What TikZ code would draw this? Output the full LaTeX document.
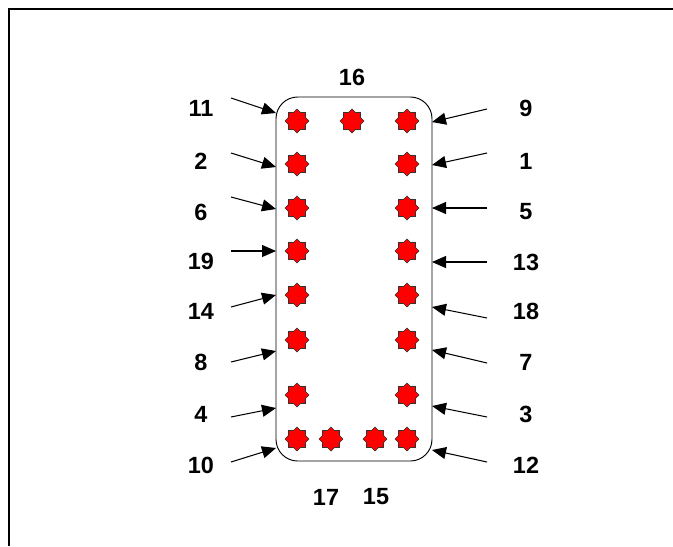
\documentclass[tikz,border=0pt]{standalone}
\usepackage{fontspec}
\setmainfont{Liberation Sans}
\usetikzlibrary{arrows.meta,shapes.geometric}

\begin{document}
\begin{tikzpicture}[x=0.03cm,y=-0.03cm,
   bar/.style={star,star points=8,star point ratio=1.3,draw=black!80,fill=red,
     line width=0.5pt,minimum size=0.72cm,inner sep=0pt},
   num/.style={font=\fontsize{20}{24}\selectfont\bfseries,inner sep=1pt},
   ptr/.style={-{Triangle[length=0.42cm,width=0.36cm]},line width=0.9pt}]
  \useasboundingbox (0,0) rectangle (673,546);
  \draw[line width=1.4pt] (9,546) -- (9,9) -- (673,9);
  % section outline
  \node[draw,line width=0.8pt,rounded corners=0.65cm,minimum width=4.68cm,
    minimum height=10.92cm] (cage) at (354,279) {};
  % left face: bar / star y / label y / arrow from / arrow to
  \foreach \n/\sy/\ly/\ay/\ty in {11/121/108/98/113, 2/164/161/153/167,
      6/208/212/197/209, 19/251/261/251/251, 14/295/311/307/295,
      8/340/362/362/351, 4/395/414/417/408, 10/439/465/462/448}{
    \node[bar] (s\n) at (297,\sy) {};
    \node[num] (l\n) at (201,\ly) {\n};
    \coordinate (a\n) at (231,\ay); \coordinate (t\n) at (276,\ty);
    \draw[ptr] (a\n) -- (t\n);
  }
  % right face
  \foreach \n/\sy/\ly/\ay/\ty in {9/121/108/109/122, 1/164/161/153/165,
      5/208/212/208/208, 13/251/262/262/262, 18/295/311/318/307,
      7/340/362/363/350, 3/395/414/417/406, 12/439/465/462/450}{
    \node[bar] (s\n) at (407,\sy) {};
    \node[num] (l\n) at (526,\ly) {\n};
    \coordinate (a\n) at (487,\ay); \coordinate (t\n) at (432,\ty);
    \draw[ptr] (a\n) -- (t\n);
  }
  % top and bottom
  \node[bar] (s16) at (352,121) {};
  \node[num] (l16) at (352,77) {16};
  \node[bar] (s17) at (331,439) {};
  \node[bar] (s15) at (375,439) {};
  \node[num] (l17) at (326,497) {17};
  \node[num] (l15) at (376,497) {15};
\end{tikzpicture}
\end{document}
